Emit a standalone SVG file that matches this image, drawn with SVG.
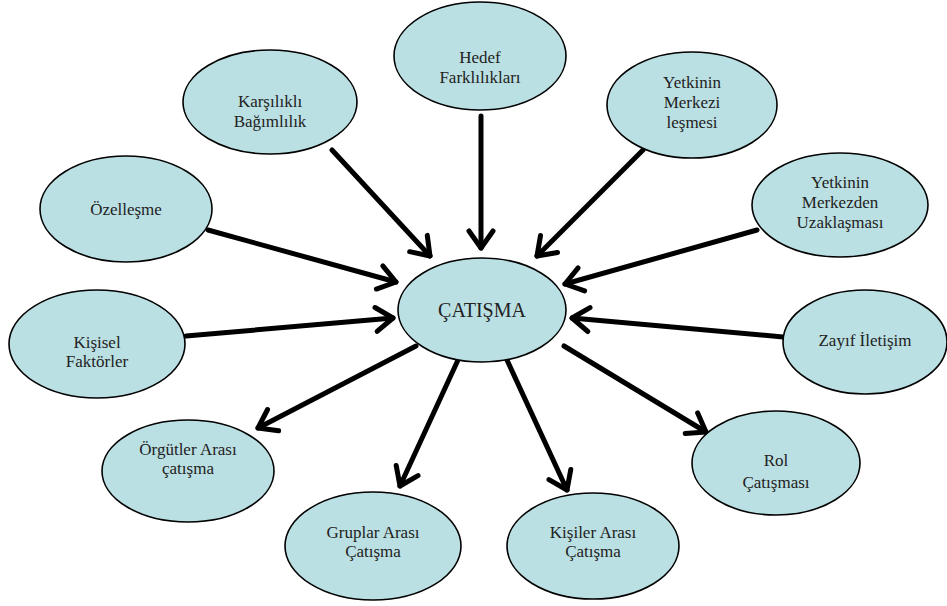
<svg xmlns="http://www.w3.org/2000/svg" width="947" height="606" viewBox="0 0 947 606">
<style>
.n ellipse{fill:#bbe0e3;stroke:#000;stroke-width:1.6}
.n text{font-family:"Liberation Serif","Times New Roman",serif;font-size:17px;fill:#222;text-anchor:middle}
.c line{stroke:#000;stroke-width:5;stroke-linecap:round;marker-end:url(#ah)}
</style>
<defs>
<marker id="ah" markerUnits="userSpaceOnUse" viewBox="-24 -16 30 32" markerWidth="30" markerHeight="32" refX="0" refY="0" orient="auto" overflow="visible">
<path d="M-17,-12 L0,0 L-17,12" fill="none" stroke="#000" stroke-width="5" stroke-linecap="round" stroke-linejoin="round"/>
</marker>
</defs>
<rect width="947" height="606" fill="#fff"/>
<g class="c">
<line x1="481" y1="116" x2="481" y2="248"/>
<line x1="332" y1="150" x2="430" y2="256"/>
<line x1="643" y1="150" x2="537" y2="256"/>
<line x1="208" y1="230" x2="396" y2="282"/>
<line x1="186" y1="336" x2="393" y2="318"/>
<line x1="757" y1="230" x2="565" y2="284"/>
<line x1="783" y1="337" x2="572" y2="318"/>
<line x1="416" y1="346" x2="258" y2="428"/>
<line x1="458" y1="360" x2="400" y2="486"/>
<line x1="507" y1="360" x2="567" y2="490"/>
<line x1="564" y1="346" x2="706" y2="432"/>
</g>
<g id="catisma" class="n"><ellipse cx="482" cy="310" rx="84" ry="52"/><text x="482" y="317" style="font-size:20px">ÇATIŞMA</text></g>
<g id="hedef" class="n"><ellipse cx="480" cy="56" rx="86" ry="54"/><text x="480" y="63">Hedef</text><text x="480" y="83">Farklılıkları</text></g>
<g id="karsilikli" class="n"><ellipse cx="270" cy="102" rx="87" ry="52"/><text x="270" y="107">Karşılıklı</text><text x="270" y="127">Bağımlılık</text></g>
<g id="merkezi" class="n"><ellipse cx="692" cy="105" rx="85" ry="53"/><text x="692" y="88">Yetkinin</text><text x="692" y="108">Merkezi</text><text x="692" y="128">leşmesi</text></g>
<g id="merkezden" class="n"><ellipse cx="840" cy="205" rx="88" ry="52"/><text x="840" y="188">Yetkinin</text><text x="840" y="208">Merkezden</text><text x="840" y="228">Uzaklaşması</text></g>
<g id="ozellesme" class="n"><ellipse cx="126" cy="209" rx="86" ry="53"/><text x="126" y="215">Özelleşme</text></g>
<g id="kisisel" class="n"><ellipse cx="97" cy="344" rx="88" ry="54"/><text x="97" y="348">Kişisel</text><text x="97" y="367">Faktörler</text></g>
<g id="zayif" class="n"><ellipse cx="865" cy="342" rx="82" ry="52"/><text x="865" y="346">Zayıf İletişim</text></g>
<g id="orgutler" class="n"><ellipse cx="188" cy="471" rx="86" ry="51"/><text x="188" y="455">Örgütler Arası</text><text x="188" y="474">çatışma</text></g>
<g id="gruplar" class="n"><ellipse cx="373" cy="546" rx="88" ry="54"/><text x="373" y="538">Gruplar Arası</text><text x="373" y="557">Çatışma</text></g>
<g id="kisiler" class="n"><ellipse cx="593" cy="546" rx="86" ry="53"/><text x="593" y="538">Kişiler Arası</text><text x="593" y="557">Çatışma</text></g>
<g id="rol" class="n"><ellipse cx="776" cy="463" rx="84" ry="52"/><text x="776" y="466">Rol</text><text x="776" y="488">Çatışması</text></g>
</svg>
